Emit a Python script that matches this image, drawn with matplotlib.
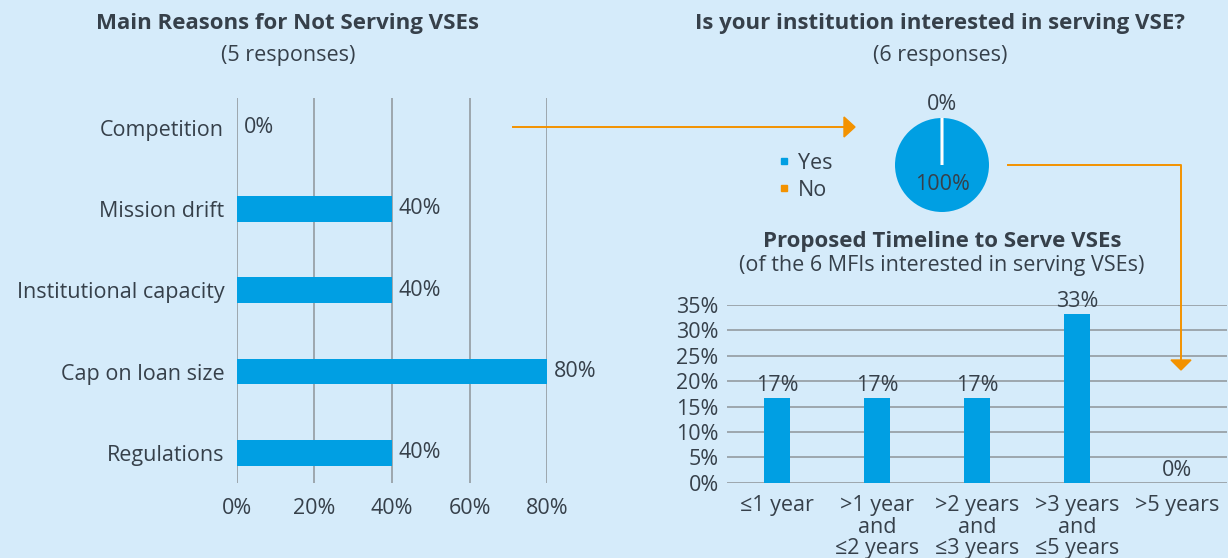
import matplotlib
matplotlib.use("Agg")
import matplotlib.pyplot as plt
from matplotlib.lines import Line2D
from matplotlib.patches import Polygon
from matplotlib.transforms import Affine2D

# ---- data ----
reasons = ["Competition", "Mission drift", "Institutional capacity",
           "Cap on loan size", "Regulations"]
reason_share = [0.0, 0.40, 0.40, 0.80, 0.40]
reason_ticks = [0.0, 0.2, 0.4, 0.6, 0.8]

interest_labels = ["Yes", "No"]
interest_share = [1.0, 0.0]

timeline_labels = ["≤1 year", ">1 year\nand\n≤2 years", ">2 years\nand\n≤3 years",
                   ">3 years\nand\n≤5 years", ">5 years"]
timeline_share = [0.167, 0.167, 0.167, 0.333, 0.0]
timeline_ticks = [0, 0.05, 0.10, 0.15, 0.20, 0.25, 0.30, 0.35]

# ---- style ----
W, H = 1228, 558
bg = "#d5ebfa"
blue = "#009fe3"
orange = "#f39200"
txt = "#36404a"
grid = "#8e9499"
plt.rcParams["font.family"] = ["Open Sans", "DejaVu Sans"]
plt.rcParams["text.color"] = txt
plt.rcParams["xtick.color"] = txt
plt.rcParams["ytick.color"] = txt
fs = 15.5
fsb = 16

fig = plt.figure(figsize=(W / 100, H / 100), dpi=100, facecolor=bg)
pix = Affine2D().scale(1 / W, -1 / H).translate(0, 1) + fig.transFigure


def box(x0, y0, x1, y1):
    # pixel box (top-left origin) -> figure fraction rect
    return [x0 / W, 1 - y1 / H, (x1 - x0) / W, (y1 - y0) / H]


# ---- left: horizontal bars ----
ax1 = fig.add_axes(box(236.7, 98.3, 547.3, 482.7))
ax1.set_facecolor("none")
ypos = list(range(len(reasons)))
ax1.barh(ypos, reason_share, height=0.316, color=blue, zorder=3)
for y, v in zip(ypos, reason_share):
    ax1.text(v + 0.018, y, "{:.0%}".format(v), va="center", ha="left", fontsize=fs)
ax1.set_xlim(0, 0.8)
ax1.set_ylim(4.367, -0.359)
ax1.set_yticks(ypos)
ax1.set_yticklabels(reasons, fontsize=fs)
ax1.set_xticks(reason_ticks)
ax1.set_xticklabels(["{:.0%}".format(t) for t in reason_ticks], fontsize=fs)
ax1.tick_params(length=0)
ax1.tick_params(axis="y", pad=9)
ax1.tick_params(axis="x", pad=11)
for s in ax1.spines.values():
    s.set_visible(False)
ax1.grid(axis="x", color=grid, linewidth=1.1, zorder=0)

fig.text(288 / W, 1 - 23 / H, "Main Reasons for Not Serving VSEs", ha="center",
         va="center", fontsize=fsb, fontweight="bold")
fig.text(288 / W, 1 - 55 / H, "(5 responses)", ha="center", va="center", fontsize=fs)

# ---- top right: pie ----
ax2 = fig.add_axes(box(942 - 47, 165 - 47, 942 + 47, 165 + 47))
wedges, _ = ax2.pie(interest_share, colors=[blue, orange], startangle=90,
                    counterclock=False, radius=1)
wedges[0].set_edgecolor("none")
wedges[1].set_edgecolor("white")
wedges[1].set_linewidth(2.2)
ax2.set_xlim(-1, 1)
ax2.set_ylim(-1, 1)
ax2.text(0, 1.28, "{:.0%}".format(interest_share[1]), ha="center", va="center", fontsize=fs)
ax2.text(0, -0.42, "{:.0%}".format(interest_share[0]), ha="center", va="center", fontsize=fs)

handles = [Line2D([], [], marker="s", linestyle="none", markersize=4.5, color=c)
           for c in (blue, orange)]
fig.legend(handles, interest_labels, loc="center left",
           bbox_to_anchor=(768 / W, 1 - 177 / H), frameon=False, fontsize=fs,
           handlelength=0.5, handletextpad=0.4, labelspacing=0.28, borderpad=0)

fig.text(940 / W, 1 - 23 / H, "Is your institution interested in serving VSE?",
         ha="center", va="center", fontsize=fsb, fontweight="bold")
fig.text(940 / W, 1 - 55 / H, "(6 responses)", ha="center", va="center", fontsize=fs)

# ---- bottom right: timeline columns ----
ax3 = fig.add_axes(box(727, 305, 1227, 482.7))
ax3.set_facecolor("none")
xpos = list(range(len(timeline_labels)))
ax3.bar(xpos, timeline_share, width=0.26, color=blue, zorder=3)
for x, v in zip(xpos, timeline_share):
    ax3.text(x, v + 0.003, "{:.0%}".format(v), ha="center", va="bottom", fontsize=fs)
ax3.set_xlim(-0.5, 4.5)
ax3.set_ylim(0, 0.35)
ax3.set_yticks(timeline_ticks)
ax3.set_yticklabels(["{:.0%}".format(t) for t in timeline_ticks], fontsize=fs)
ax3.set_xticks(xpos)
ax3.set_xticklabels(timeline_labels, fontsize=fs, linespacing=1.02)
ax3.tick_params(length=0)
ax3.tick_params(axis="y", pad=6)
ax3.tick_params(axis="x", pad=9)
for s in ax3.spines.values():
    s.set_visible(False)
ax3.grid(axis="y", color=grid, linewidth=1.1, zorder=0)

fig.text(942 / W, 1 - 242 / H, "Proposed Timeline to Serve VSEs", ha="center",
         va="center", fontsize=fsb, fontweight="bold")
fig.text(942 / W, 1 - 266 / H, "(of the 6 MFIs interested in serving VSEs)",
         ha="center", va="center", fontsize=fs)

# ---- connector arrows ----
fig.add_artist(Line2D([513, 845], [127, 127], color=orange, linewidth=1.4, transform=pix))
fig.add_artist(Polygon([[844, 117], [855, 127], [844, 137]], closed=True,
                       color=orange, transform=pix))
fig.add_artist(Line2D([1008, 1181, 1181], [165, 165, 361], color=orange,
                      linewidth=1.4, transform=pix))
fig.add_artist(Polygon([[1171, 360], [1191, 360], [1181, 370]], closed=True,
                       color=orange, transform=pix))

fig.savefig("out.png", dpi=100, facecolor=bg)
